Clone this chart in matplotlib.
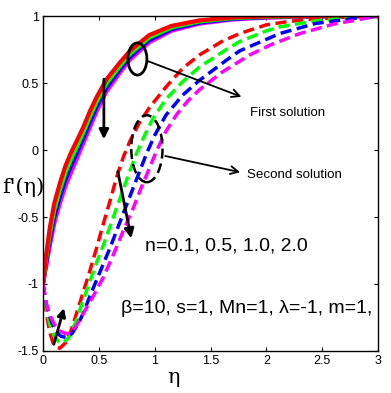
import matplotlib.pyplot as plt
from matplotlib.patches import Ellipse
from matplotlib.ticker import FixedLocator

plt.rcParams['font.family'] = ['Liberation Sans', 'DejaVu Sans']

# first solution (solid)
eta1 = [0, 0.03, 0.06, 0.10, 0.15, 0.20, 0.25, 0.30, 0.36, 0.42, 0.48, 0.57, 0.69, 0.78, 0.95, 1.15, 1.4, 1.7, 2.0, 2.5, 3.0]
f1_n01 = [-1, -0.77, -0.585, -0.40, -0.25, -0.12, -0.02, 0.065, 0.17, 0.29, 0.395, 0.53, 0.655, 0.742, 0.858, 0.927, 0.968, 0.99, 0.998, 1.0, 1.0]
f1_n05 = [-1, -0.80, -0.63, -0.45, -0.30, -0.17, -0.07, 0.02, 0.13, 0.25, 0.36, 0.50, 0.63, 0.72, 0.84, 0.915, 0.96, 0.985, 0.995, 1.0, 1.0]
f1_n10 = [-1, -0.83, -0.675, -0.50, -0.35, -0.22, -0.12, -0.025, 0.09, 0.21, 0.325, 0.47, 0.605, 0.698, 0.822, 0.903, 0.952, 0.98, 0.992, 0.999, 1.0]
f1_n20 = [-1, -0.86, -0.72, -0.55, -0.40, -0.27, -0.17, -0.07, 0.05, 0.17, 0.29, 0.44, 0.58, 0.676, 0.804, 0.891, 0.944, 0.975, 0.989, 0.998, 1.0]

# second solution (dashed)
eta2_n01 = [0, 0.03, 0.06, 0.09, 0.12, 0.15, 0.2, 0.25, 0.30, 0.36, 0.42, 0.48, 0.54, 0.60, 0.66, 0.72, 0.78,
            0.86, 0.955, 1.1, 1.25, 1.4, 1.6, 1.76, 2.0, 2.2, 2.44, 2.8, 3.0]
f2_n01 = [-1, -1.22, -1.36, -1.44, -1.47, -1.48, -1.44, -1.35, -1.22, -1.06, -0.90, -0.73, -0.55, -0.38, -0.20, -0.05, 0.07,
          0.20, 0.32, 0.47, 0.61, 0.71, 0.81, 0.87, 0.935, 0.96, 0.98, 0.995, 1.0]
eta2_n05 = [0, 0.03, 0.06, 0.10, 0.14, 0.18, 0.23, 0.29, 0.36, 0.42, 0.48, 0.54, 0.60, 0.66, 0.72, 0.78, 0.84,
            0.91, 0.98, 1.1, 1.25, 1.4, 1.64, 1.76, 2.0, 2.12, 2.44, 2.8, 3.0]
f2_n05 = [-1, -1.18, -1.30, -1.39, -1.43, -1.44, -1.40, -1.29, -1.12, -0.98, -0.84, -0.71, -0.57, -0.43, -0.29, -0.15, -0.02,
          0.11, 0.23, 0.38, 0.51, 0.62, 0.75, 0.81, 0.89, 0.92, 0.965, 0.99, 1.0]
eta2_n10 = [0, 0.03, 0.07, 0.11, 0.16, 0.21, 0.26, 0.32, 0.37, 0.42, 0.48, 0.54, 0.60, 0.66, 0.72, 0.79, 0.86,
            0.93, 1.0, 1.1, 1.25, 1.4, 1.64, 1.76, 2.12, 2.44, 2.8, 3.0]
f2_n10 = [-1, -1.15, -1.27, -1.35, -1.39, -1.40, -1.37, -1.29, -1.20, -1.09, -0.97, -0.85, -0.73, -0.60, -0.47, -0.32, -0.17,
          -0.02, 0.11, 0.26, 0.41, 0.52, 0.67, 0.74, 0.87, 0.945, 0.985, 1.0]
eta2_n20 = [0, 0.03, 0.06, 0.10, 0.15, 0.20, 0.24, 0.30, 0.36, 0.45, 0.54, 0.63, 0.72, 0.80, 0.87, 0.95, 1.02,
            1.1, 1.2, 1.3, 1.4, 1.6, 1.85, 2.05, 2.3, 2.6, 2.9, 3.0]
f2_n20 = [-1, -1.15, -1.23, -1.30, -1.35, -1.37, -1.37, -1.31, -1.22, -1.09, -0.95, -0.78, -0.60, -0.45, -0.30, -0.14, 0.0,
          0.14, 0.27, 0.37, 0.45, 0.58, 0.71, 0.79, 0.87, 0.94, 0.985, 1.0]

colors = ['#ff0000', '#00ff00', '#0000ff', '#ff00ff']
xticks = [0, 0.5, 1, 1.5, 2, 2.5, 3]
xticklabels = ['0', '0.5', '1', '1.5', '2', '2.5', '3']
yticks = [-1.5, -1, -0.5, 0, 0.5, 1]
yticklabels = ['-1.5', '-1', '-0.5', '0', '0.5', '1']

fig = plt.figure(figsize=(3.91, 3.93), dpi=100)
ax = fig.add_axes([0.110, 0.107, 0.857, 0.852])

#solid curves, largest n drawn first so red sits on top
for f, c in reversed(list(zip([f1_n01, f1_n05, f1_n10, f1_n20], colors))):
    ax.plot(eta1, f, color=c, lw=3, solid_capstyle='butt')

dashed = [(eta2_n01, f2_n01), (eta2_n05, f2_n05), (eta2_n10, f2_n10), (eta2_n20, f2_n20)]
for (e, f), c in zip(dashed, colors):
    ax.plot(e, f, color=c, lw=2.5, dashes=(3.2, 1.6))

ax.set_xlim(0, 3)
ax.set_ylim(-1.5, 1)
ax.xaxis.set_major_locator(FixedLocator(xticks))
ax.yaxis.set_major_locator(FixedLocator(yticks))
ax.set_xticklabels(xticklabels)
ax.set_yticklabels(yticklabels)
ax.tick_params(direction='in', top=True, right=True, length=3, width=0.8, labelsize=9, pad=3)
for s in ax.spines.values():
    s.set_linewidth(1.0)

ax.set_xlabel('η', fontsize=15, family='DejaVu Serif')
ax.xaxis.set_label_coords(0.39, -0.05)
ax.set_ylabel("f'(η)", fontsize=15, family='DejaVu Serif', rotation=0)
ax.yaxis.set_label_coords(-0.06, 0.46)

#ellipses, on top of the curves
ax.add_patch(Ellipse((0.845, 0.68), 0.17, 0.24, fill=False, ec='k', lw=2, zorder=4))
ax.add_patch(Ellipse((0.93, 0.01), 0.28, 0.50, fill=False, ec='k', lw=1.8, ls=(0, (4, 2)), zorder=4))

#arrows
ax.annotate('', xy=(1.80, 0.39), xytext=(0.92, 0.67),
            arrowprops=dict(arrowstyle='->', color='k', lw=1.3, mutation_scale=14))
ax.annotate('', xy=(1.79, -0.17), xytext=(1.07, -0.04),
            arrowprops=dict(arrowstyle='->', color='k', lw=1.3, mutation_scale=14))
ax.annotate('', xy=(0.545, 0.06), xytext=(0.545, 0.55),
            arrowprops=dict(arrowstyle='-|>', color='k', lw=2, mutation_scale=14))
ax.annotate('', xy=(0.795, -0.68), xytext=(0.665, -0.14),
            arrowprops=dict(arrowstyle='-|>', color='k', lw=2, mutation_scale=14))
ax.annotate('', xy=(0.195, -1.16), xytext=(0.09, -1.47),
            arrowprops=dict(arrowstyle='-|>', color='k', lw=2, mutation_scale=12))

ax.text(1.85, 0.28, 'First solution', fontsize=9.5, va='center', ha='left')
ax.text(1.83, -0.19, 'Second solution', fontsize=9.6, va='center', ha='left')
ax.text(0.91, -0.72, 'n=0.1, 0.5, 1.0, 2.0', fontsize=14, va='center', ha='left')
ax.text(0.70, -1.18, 'β=10, s=1, Mn=1, λ=-1, m=1,', fontsize=14, va='center', ha='left')

fig.savefig('out.png', dpi=100)
